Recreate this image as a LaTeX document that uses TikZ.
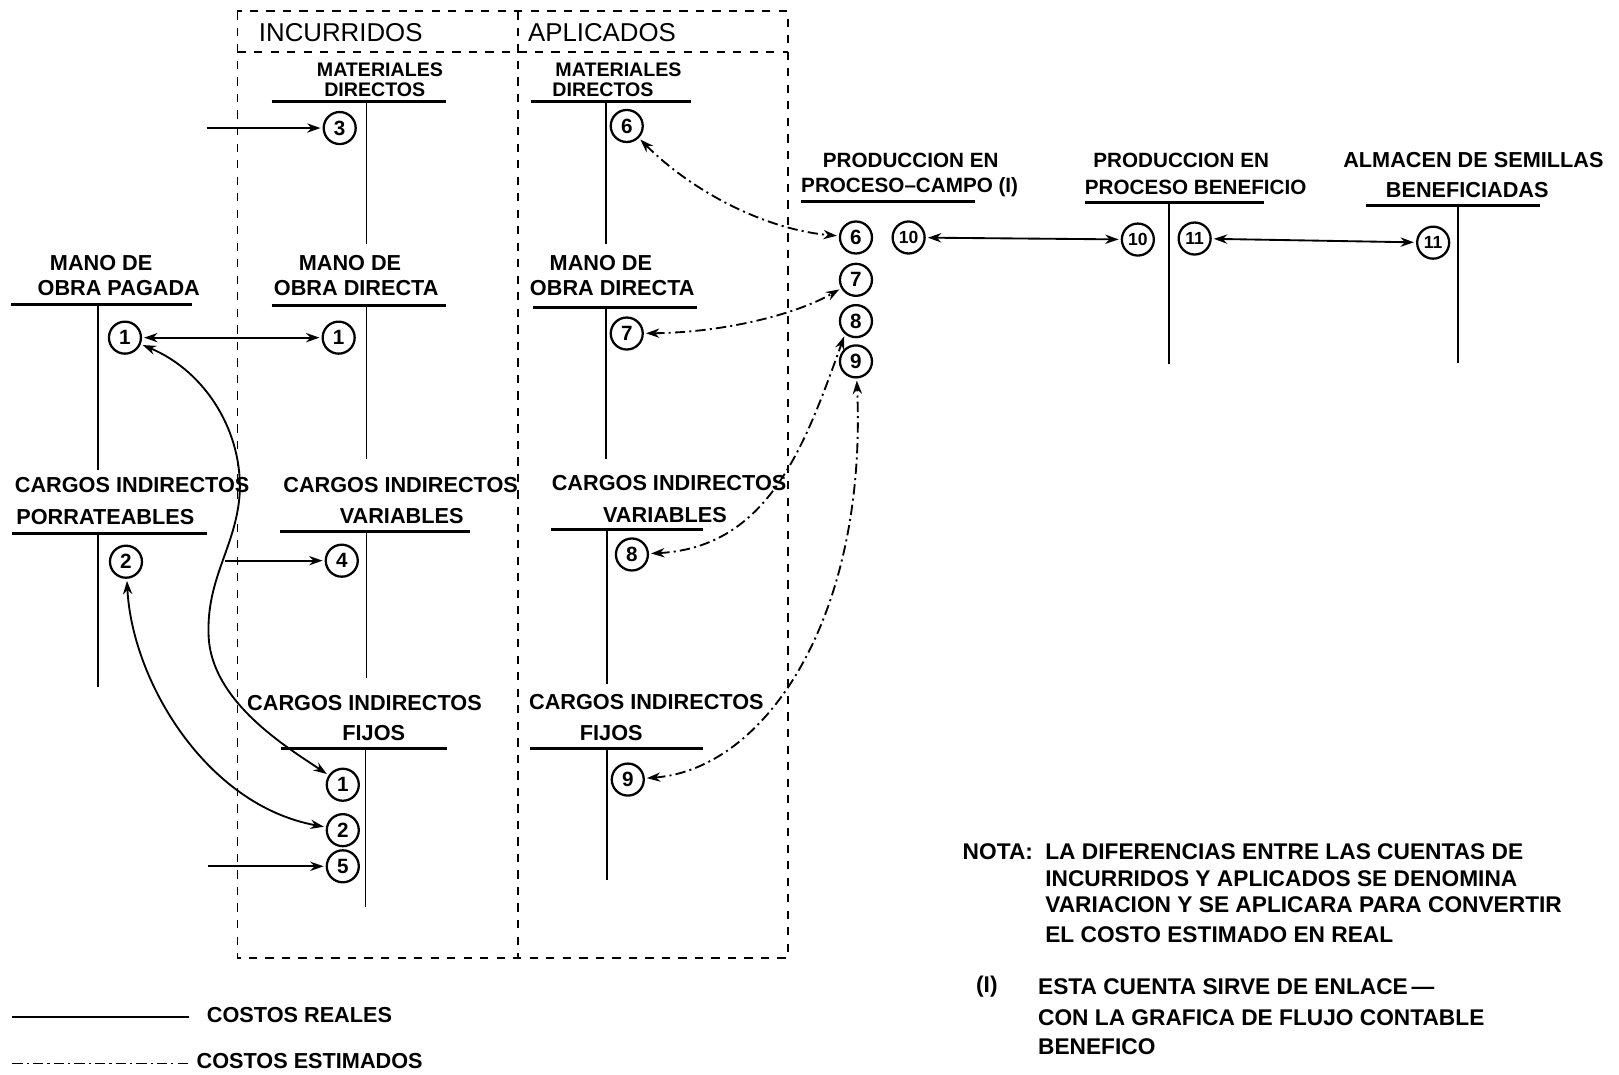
\documentclass[tikz,border=0pt]{standalone}
\usepackage{fontspec}
\setmainfont{Liberation Sans}
\usetikzlibrary{arrows.meta}

\tikzset{
  titulo/.style={font=\fontsize{10.5}{12}\selectfont\bfseries, inner sep=0pt},
  titulochico/.style={font=\fontsize{9.5}{11}\selectfont\bfseries, inner sep=0pt},
  tituloprod/.style={font=\fontsize{10}{12}\selectfont\bfseries, inner sep=0pt},
  encabezado/.style={font=\fontsize{12.5}{14}\selectfont, inner sep=0pt},
  nota/.style={font=\fontsize{11}{13}\selectfont\bfseries, inner sep=0pt, anchor=west},
  leyenda/.style={font=\fontsize{10.5}{12}\selectfont\bfseries, inner sep=0pt, anchor=west},
  saldo/.style={circle, draw, line width=1.1pt, minimum size=15.5pt, inner sep=0pt, font=\fontsize{10}{10}\selectfont\bfseries},
  saldodoble/.style={saldo, font=\fontsize{8.5}{8.5}\selectfont\bfseries},
  raya/.style={line width=1.3pt},
  barra/.style={line width=0.9pt},
  marco/.style={line width=0.9pt, dash pattern=on 4pt off 4pt},
  real/.style={line width=0.9pt, shorten >=1pt, shorten <=1pt},
  estimado/.style={line width=0.9pt, dash pattern=on 5pt off 2pt on 1pt off 2pt, shorten >=1pt, shorten <=1pt}
}

\begin{document}
\begin{tikzpicture}[x=0.5pt, y=-0.5pt, >={Stealth[length=6.5pt, width=4.5pt]}]
    \useasboundingbox (0,0) rectangle (1568,1041);

    % Marco incurridos / aplicados
    \draw[marco] (230,11) rectangle (763,928);
    \draw[marco] (230,50) -- (763,50);
    \draw[marco] (502,11) -- (502,928);
    \node[encabezado] (incurridos) at (330,32) {INCURRIDOS};
    \node[encabezado] (aplicados) at (583,32) {APLICADOS};

    % Materiales directos
    \node[titulochico] (mdi-t1) at (368,68) {MATERIALES};
    \node[titulochico] (mdi-t2) at (363,87) {DIRECTOS};
    \draw[raya] (263,98) -- (432,98);
    \draw[barra] (355,98) -- (355,236);
    \node[saldo] (mdi3) at (329,124) {3};
    \node[titulochico] (mda-t1) at (599,68) {MATERIALES};
    \node[titulochico] (mda-t2) at (584,87) {DIRECTOS};
    \draw[raya] (514,98) -- (669,98);
    \draw[barra] (587,98) -- (587,236);
    \node[saldo] (mda6) at (607,122) {6};

    % Mano de obra
    \node[titulo] (mop-t1) at (98,255) {MANO DE};
    \node[titulo] (mop-t2) at (115,279) {OBRA PAGADA};
    \draw[raya] (11,295) -- (186,295);
    \draw[barra] (95,295) -- (95,455);
    \node[saldo] (mop1) at (121,327) {1};
    \node[titulo] (modi-t1) at (339,255) {MANO DE};
    \node[titulo] (modi-t2) at (345,279) {OBRA DIRECTA};
    \draw[raya] (263,296) -- (432,296);
    \draw[barra] (355,296) -- (355,445);
    \node[saldo] (modi1) at (328,327) {1};
    \node[titulo] (moda-t1) at (582,255) {MANO DE};
    \node[titulo] (moda-t2) at (593,279) {OBRA DIRECTA};
    \draw[raya] (516,298) -- (675,298);
    \draw[barra] (587,298) -- (587,445);
    \node[saldo] (moda7) at (607,323) {7};

    % Cargos indirectos
    \node[titulo] (cip-t1) at (128,470) {CARGOS INDIRECTOS};
    \node[titulo] (cip-t2) at (102,501) {PORRATEABLES};
    \draw[raya] (12,517) -- (200,517);
    \draw[barra] (95,517) -- (95,665);
    \node[saldo] (cip2) at (122,544) {2};
    \node[titulo] (civi-t1) at (388,470) {CARGOS INDIRECTOS};
    \node[titulo] (civi-t2) at (389,500) {VARIABLES};
    \draw[raya] (271,515) -- (455,515);
    \draw[barra] (355,515) -- (355,657);
    \node[saldo] (civi4) at (331,543) {4};
    \node[titulo] (civa-t1) at (648,468) {CARGOS INDIRECTOS};
    \node[titulo] (civa-t2) at (644,499) {VARIABLES};
    \draw[raya] (534,513) -- (681,513);
    \draw[barra] (588,513) -- (588,662);
    \node[saldo] (civa8) at (612,537) {8};
    \node[titulo] (cifi-t1) at (353,681) {CARGOS INDIRECTOS};
    \node[titulo] (cifi-t2) at (362,710) {FIJOS};
    \draw[raya] (272,725) -- (433,725);
    \draw[barra] (354,725) -- (354,878);
    \node[saldo] (cifi1) at (332,760) {1};
    \node[saldo] (cifi2) at (332,804) {2};
    \node[saldo] (cifi5) at (332,839) {5};
    \node[titulo] (cifa-t1) at (626,680) {CARGOS INDIRECTOS};
    \node[titulo] (cifa-t2) at (592,710) {FIJOS};
    \draw[raya] (513,725) -- (681,725);
    \draw[barra] (588,725) -- (588,852);
    \node[saldo] (cifa9) at (608,755) {9};

    % Produccion y almacen
    \node[tituloprod] (ppc-t1) at (882,155) {PRODUCCION EN};
    \node[tituloprod] (ppc-t2) at (881,181) {PROCESO–CAMPO (I)};
    \draw[raya] (776,195) -- (944,195);
    \node[saldo] (ppc6) at (829,230) {6};
    \node[saldodoble] (ppc10) at (880,230) {10};
    \node[saldo] (ppc7) at (829,271) {7};
    \node[saldo] (ppc8) at (829,311) {8};
    \node[saldo] (ppc9) at (829,350) {9};
    \node[tituloprod] (ppb-t1) at (1144,155) {PRODUCCION EN};
    \node[tituloprod] (ppb-t2) at (1158,181) {PROCESO BENEFICIO};
    \draw[raya] (1051,196) -- (1224,196);
    \draw[barra] (1132,196) -- (1132,353);
    \node[saldodoble] (ppb10) at (1102,232) {10};
    \node[saldodoble] (ppb11) at (1157,231) {11};
    \node[titulo] (asb-t1) at (1427,155) {ALMACEN DE SEMILLAS};
    \node[titulo] (asb-t2) at (1421,184) {BENEFICIADAS};
    \draw[raya] (1323,199) -- (1491,199);
    \draw[barra] (1412,199) -- (1412,352);
    \node[saldodoble] (asb11) at (1388,235) {11};

    % Costos reales
    \coordinate (e3) at (198,124);
    \coordinate (e4) at (216,543);
    \coordinate (e5) at (199,839);
    \draw[real, ->] (e3) -- (mdi3);
    \draw[real, ->] (e4) -- (civi4);
    \draw[real, ->] (e5) -- (cifi5);
    \draw[real, <->] (mop1) -- (modi1);
    \draw[real, <->] (mop1) .. controls (200,360) and (236,420) .. (232,480)
        .. controls (228,530) and (200,560) .. (202,615)
        .. controls (204,680) and (280,725) .. (cifi1);
    \draw[real, <->] (cip2) .. controls (128,660) and (200,780) .. (cifi2);
    \draw[real, <->] (ppc10) -- (ppb10);
    \draw[real, <->] (ppb11) -- (asb11);

    % Costos estimados
    \draw[estimado, <->] (mda6) .. controls (670,185) and (740,222) .. (ppc6);
    \draw[estimado, <->] (moda7) .. controls (700,322) and (770,305) .. (ppc7);
    \draw[estimado, <->] (civa8) .. controls (745,530) and (780,430) .. (ppc8.230);
    \draw[estimado, <->] (cifa9) .. controls (740,745) and (840,600) .. (ppc9);

    % Leyenda
    \coordinate (lr1) at (12,985);
    \coordinate (lr2) at (183,985);
    \draw[line width=0.9pt] (lr1) -- (lr2);
    \node[leyenda] (lreal) at (200,983) {COSTOS REALES};
    \coordinate (le1) at (12,1030);
    \coordinate (le2) at (184,1030);
    \draw[line width=0.9pt, dash pattern=on 5pt off 2pt on 1pt off 2pt] (le1) -- (le2);
    \node[leyenda] (lest) at (190,1028) {COSTOS ESTIMADOS};

    % Notas
    \node[nota] (nota) at (932,825) {NOTA:};
    \node[nota] (nota1) at (1012,825) {LA DIFERENCIAS ENTRE LAS CUENTAS DE};
    \node[nota] (nota2) at (1012,851) {INCURRIDOS Y APLICADOS SE DENOMINA};
    \node[nota] (nota3) at (1012,876) {VARIACION Y SE APLICARA PARA CONVERTIR};
    \node[nota] (nota4) at (1012,905) {EL COSTO ESTIMADO EN REAL};
    \node[nota] (llamada) at (945,956) {(I)};
    \node[nota] (llamada1) at (1005,956) {ESTA CUENTA SIRVE DE ENLACE\,—};
    \node[nota] (llamada2) at (1005,986) {CON LA GRAFICA DE FLUJO CONTABLE};
    \node[nota] (llamada3) at (1005,1014) {BENEFICO};
\end{tikzpicture}
\end{document}
